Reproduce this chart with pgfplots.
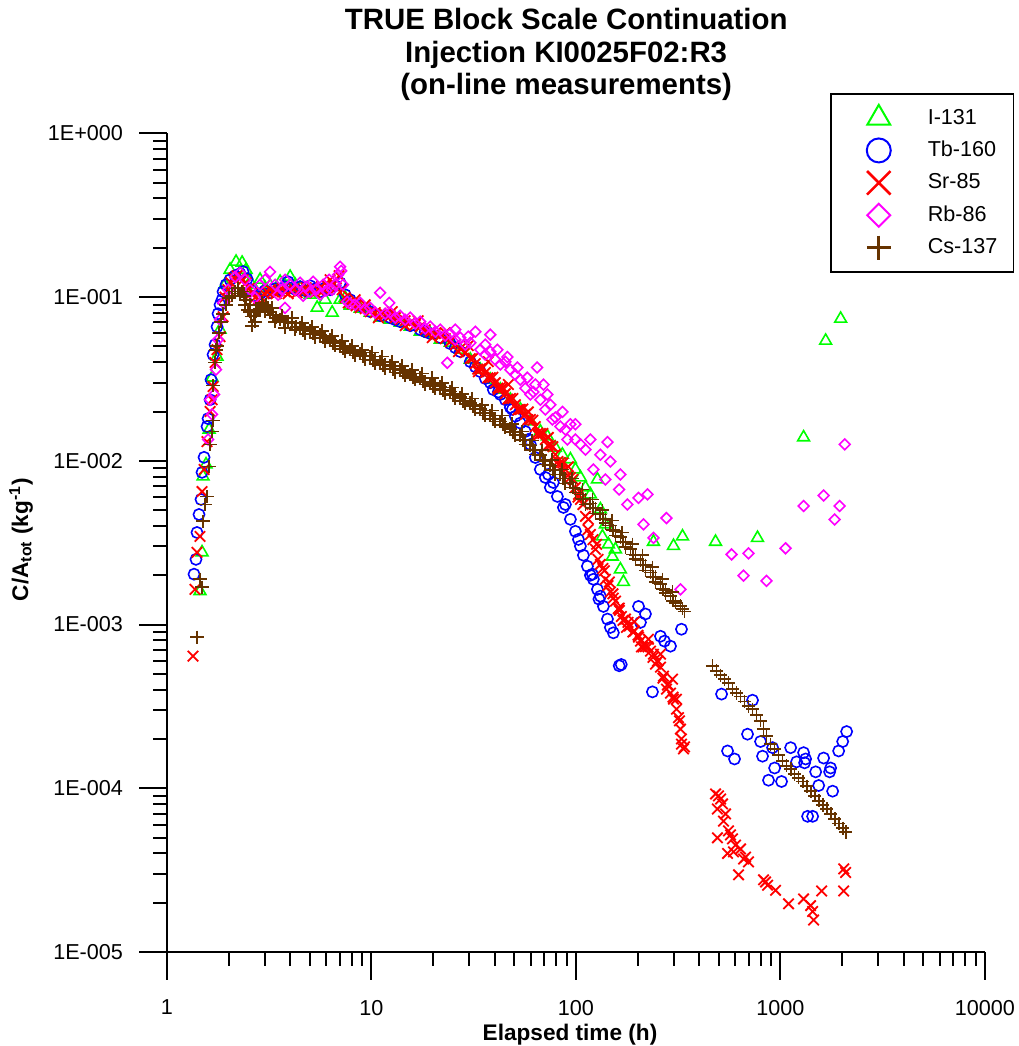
\documentclass[border=0pt]{standalone}
\usepackage{pgfplots}
\pgfplotsset{compat=1.18}
\usepackage{fontspec}
\setmainfont{Liberation Sans}
\definecolor{csbrown}{RGB}{102,51,0}
\definecolor{rbmag}{RGB}{255,0,255}
\definecolor{igreen}{RGB}{0,255,0}
\definecolor{tbblue}{RGB}{0,0,255}
\definecolor{srred}{RGB}{255,0,0}
\pgfplotsset{legmark/.style={only marks, legend image code/.code={\path[draw=none,fill=none] (-16pt,-8.1pt) rectangle (24.5pt,8.1pt); \draw[##1] plot coordinates {(0pt,0pt)};}}}
\begin{document}
\begin{tikzpicture}
\useasboundingbox (-83.5pt,-47pt) rectangle (426pt,476pt);
\begin{axis}[
 at={(0pt,0pt)}, anchor=south west,
 xmode=log, ymode=log,
 scale only axis, width=409pt, height=409.35pt,
 xmin=1, xmax=10000, ymin=1e-5, ymax=1,
 axis x line*=bottom, axis y line*=left,
 axis line style={line width=1.2pt, -},
 tick align=outside,
 major tick length=14pt, minor tick length=7pt,
 every tick/.style={black, line width=1pt},
 xtick={1,10,100,1000,10000}, xticklabels={1,10,100,1000,10000},
 minor xtick={2,3,4,5,6,7,8,9,20,30,40,50,60,70,80,90,200,300,400,500,600,700,800,900,2000,3000,4000,5000,6000,7000,8000,9000},
 ytick={1e-5,1e-4,1e-3,1e-2,1e-1,1},
 yticklabels={1E-005,1E-004,1E-003,1E-002,1E-001,1E+000},
 minor ytick={2e-5,3e-5,4e-5,5e-5,6e-5,7e-5,8e-5,9e-5,2e-4,3e-4,4e-4,5e-4,6e-4,7e-4,8e-4,9e-4,2e-3,3e-3,4e-3,5e-3,6e-3,7e-3,8e-3,9e-3,2e-2,3e-2,4e-2,5e-2,6e-2,7e-2,8e-2,9e-2,0.2,0.3,0.4,0.5,0.6,0.7,0.8,0.9},
 tick label style={font=\fontsize{10.8}{13}\selectfont},
 xticklabel style={yshift=-6.5pt},
 yticklabel style={xshift=-4.5pt},
 xlabel={Elapsed time (h)},
 ylabel={C/A\textsubscript{tot} (kg\textsuperscript{-1})},
 xlabel style={font=\bfseries\fontsize{11.3}{13}\selectfont, at={(axis description cs:0.4927,0)}, anchor=base, yshift=-44pt},
 ylabel style={font=\bfseries\fontsize{11.3}{13}\selectfont, at={(axis description cs:-0.1785,0.5037)}, anchor=center},
 title={TRUE Block Scale Continuation\\Injection KI0025F02:R3\\(on-line measurements)},
 title style={font=\bfseries\fontsize{14.7}{16.3}\selectfont, align=center, at={(axis description cs:0.488,1)}, anchor=south, inner sep=0pt, yshift=10pt},
 legend style={at={(axis description cs:0.8105,1.0492)}, anchor=north west, draw=black, line width=0.8pt, fill=white, inner xsep=8pt, inner ysep=4pt, row sep=0pt, nodes={inner sep=0pt, font=\fontsize{10.8}{13}\selectfont}},
 legend cell align=left,
]
\addlegendimage{legmark, mark=triangle, igreen, mark size=6.6pt, mark options={line width=1pt}}
\addlegendentry{I-131}
\addlegendimage{legmark, mark=o, tbblue, mark size=6pt, mark options={line width=1pt}}
\addlegendentry{Tb-160}
\addlegendimage{legmark, mark=x, srred, mark size=8.3pt, mark options={line width=1.3pt}}
\addlegendentry{Sr-85}
\addlegendimage{legmark, mark=square, rbmag, mark size=4.07pt, mark options={line width=1pt, rotate=45}}
\addlegendentry{Rb-86}
\addlegendimage{legmark, mark=+, csbrown, mark size=6pt, mark options={line width=1.3pt}}
\addlegendentry{Cs-137}

% I-131
\addplot[only marks, mark=triangle, mark size=3.4pt, igreen, mark options={line width=0.8pt}, forget plot] coordinates {
(1.450,1.60e-3)(1.484,2.76e-3)(1.501,8.02e-3)(1.552,9.50e-3)(1.606,1.55e-2)(1.661,3.22e-2)(1.757,4.32e-2)(1.817,6.32e-2)(1.922,0.1189)(2.034,0.1467)(2.176,0.1642)(2.330,0.162)(2.436,0.1467)(2.549,0.124)(2.696,0.1108)(2.852,0.1275)(3.017,0.1139)(3.192,0.1172)(3.377,0.1078)(3.573,0.124)(3.780,0.1108)(4.000,0.133)(4.232,0.1189)(4.477,0.1139)(4.737,0.1078)(5.012,0.1033)(5.423,0.086)(5.935,0.0963)(6.424,0.0803)(7.029,0.0963)(7.437,0.0990)(7.867,0.0885)(8.806,0.0849)(9.854,0.0803)(11.03,0.0748)(12.35,0.0727)(13.82,0.0697)(15.47,0.0659)(17.31,0.0614)(19.38,0.0598)(21.69,0.0549)(24.28,0.0526)(27.18,0.0477)(30.42,0.0415)(34.05,0.0360)(38.11,0.0313)(42.66,0.0272)(47.75,0.0236)(53.44,0.0206)(59.82,0.0174)(66.95,0.0151)(72.48,0.0141)(79.29,0.0120)(85.8,0.0109)(93.89,0.0102)(99.34,0.00885)(105.1,0.00791)(111.2,0.00687)(117.6,0.00623)(127.3,0.00769)(131.6,0.00505)(134.7,0.00345)(139.3,0.00409)(144.1,0.00309)(150.6,0.00260)(155.9,0.00288)(164.9,0.00217)(170.6,0.00182)(239.2,0.00320)(299.8,0.00302)(331.8,0.00345)(481.2,0.00320)(772.1,0.00338)(1297,0.0139)(1663,0.0541)(1969,0.0737)
};
% Tb-160
\addplot[only marks, mark=o, mark size=2.8pt, tbblue, mark options={line width=0.8pt}, forget plot] coordinates {
(1.356,2.03e-3)(1.386,2.50e-3)(1.402,3.65e-3)(1.434,4.70e-3)(1.467,5.81e-3)(1.484,8.5e-3)(1.518,1.05e-2)(1.570,1.62e-2)(1.588,1.81e-2)(1.624,2.36e-2)(1.642,3.13e-2)(1.680,4.45e-2)(1.718,5.12e-2)(1.757,6.59e-2)(1.777,7.91e-2)(1.817,8.97e-2)(1.858,9.63e-2)(1.880,0.1078)(1.944,0.1189)(2.034,0.1275)(2.152,0.135)(2.277,0.139)(2.355,0.143)(2.464,0.129)(2.578,0.1108)(2.696,0.1018)(2.852,0.1048)(3.017,0.1093)(3.192,0.1063)(3.377,0.1124)(3.573,0.1108)(3.780,0.1155)(3.910,0.1240)(4.090,0.1139)(4.279,0.1108)(4.477,0.1155)(4.737,0.1093)(5.012,0.1172)(5.303,0.1124)(5.610,0.1078)(5.935,0.1139)(6.280,0.1108)(6.644,0.1172)(7.029,0.122)(7.437,0.1033)(7.867,0.0963)(8.806,0.0885)(9.854,0.0814)(11.03,0.0769)(12.35,0.0748)(13.82,0.0707)(15.47,0.0668)(17.31,0.0632)(19.38,0.0598)(21.69,0.0565)(24.28,0.0519)(27.18,0.0464)(30.42,0.0403)(34.05,0.0350)(38.11,0.0300)(39.43,0.0272)(42.66,0.0254)(45.13,0.0236)(47.75,0.0212)(50.52,0.0187)(53.44,0.0170)(56.54,0.0151)(59.82,0.01258)(63.29,0.01047)(66.95,0.00885)(70.84,0.00791)(74.94,0.00687)(81.1,0.00606)(86.8,0.00519)(93.89,0.00439)(99.34,0.00371)(105.1,0.00301)(108.7,0.00265)(113.7,0.00227)(117.6,0.00200)(121.6,0.00189)(127.3,0.00164)(131.6,0.00149)(136.2,0.00129)(142.5,0.00108)(147.3,0.00096)(152.3,0.00089)(162.7,0.00056)(166.5,0.00057)(202.2,0.00129)(206.6,0.00103)(218.6,0.00116)(258.9,0.000848)(270.8,0.000792)(289.8,0.000738)(328.0,0.000936)(236.5,0.000388)
(13.07,0.0727)(18.32,0.0614)(25.69,0.0491)(32.19,0.0375)(36.03,0.0318)(41.7,0.0263)(48.83,0.0206)(58.5,0.0135)(73.3,0.00825)(77.5,0.00737)(88.75,0.00541)(102.8,0.00331)(120.3,0.00203)(129.5,0.00143)
(515.0,3.76e-4)(730.0,3.45e-4)(690,2.14e-4)(551,1.69e-4)(596,1.51e-4)(799.1,1.93e-4)(817,1.57e-4)(915,1.77e-4)(1121,1.77e-4)(936,1.33e-4)(874,1.12e-4)(1012,1.10e-4)(1297,1.65e-4)(1327,1.51e-4)(1312,1.43e-4)(1199,1.45e-4)(1486,1.26e-4)(1537,1.04e-4)(1625,1.53e-4)(1759,1.33e-4)(1739,1.26e-4)(1799,9.6e-5)(1925,1.69e-4)(2014,1.93e-4)(2106,2.22e-4)(1357,6.74e-5)(1436,6.74e-5)
};
% Sr-85
\addplot[only marks, mark=x, mark size=3.7pt, srred, mark options={line width=0.9pt}, forget plot] coordinates {
(1.341,6.41e-4)(1.371,1.64e-3)(1.402,2.76e-3)(1.450,3.45e-3)(1.484,6.49e-3)(1.518,8.85e-3)(1.570,1.31e-2)(1.624,2.00e-2)(1.661,2.36e-2)(1.680,2.84e-2)(1.718,3.98e-2)(1.757,4.77e-2)(1.817,5.73e-2)(1.880,7.58e-2)(1.922,0.100)(1.989,0.111)(2.057,0.122)(2.128,0.131)(2.201,0.135)(2.277,0.131)(2.355,0.1275)(2.436,0.122)(2.520,0.113)(2.607,0.1063)(2.696,0.0990)(2.789,0.0963)(2.884,0.100)(2.984,0.1048)(3.087,0.1078)(3.192,0.1108)(3.302,0.1078)(3.416,0.1048)(3.533,0.1093)(3.655,0.1124)(3.780,0.1078)(3.910,0.1048)(4.045,0.1093)(4.185,0.1124)(4.329,0.1063)(4.477,0.1108)(4.632,0.1078)(4.791,0.1139)(4.956,0.1093)(5.127,0.1124)(5.303,0.1063)(5.486,0.1108)(5.675,0.1155)(5.871,0.1108)(6.073,0.1172)(6.280,0.1275)(6.496,0.1189)(6.720,0.1139)(6.952,0.135)(7.191,0.1108)(7.437,0.0990)(7.694,0.0922)(8.047,0.0910)(8.417,0.0885)(8.806,0.0860)(9.318,0.0849)(9.854,0.0814)(10.43,0.0803)(11.03,0.0792)(11.67,0.0780)(12.35,0.0769)(13.07,0.0748)(13.82,0.0727)(14.62,0.0717)(15.47,0.0697)(16.37,0.0678)(17.31,0.0659)(18.32,0.0632)(19.38,0.0614)(20.51,0.0598)(21.69,0.0581)(22.95,0.0557)(24.28,0.0534)(25.69,0.0512)(27.18,0.0484)(28.76,0.0458)(30.42,0.0421)(32.19,0.0392)(34.05,0.0365)(36.03,0.0346)(38.11,0.0322)(40.32,0.0300)(42.66,0.0280)(45.13,0.0257)(47.75,0.0240)(50.52,0.0220)(53.44,0.0206)(56.54,0.0192)(59.82,0.01786)(63.29,0.01618)(66.95,0.01467)(70.84,0.01349)(74.94,0.01241)(79.29,0.01093)(83.88,0.00977)(88.75,0.00885)(93.89,0.00791)(99.34,0.00687)(105.1,0.00581)(111.2,0.00458)(117.6,0.00355)(124.5,0.00288)(131.6,0.00233)(139.3,0.00189)(147.3,0.00158)(152.3,0.00145)(162.7,0.00126)(166.8,0.00112)(174.5,0.00108)(182.5,0.00098)(193.1,0.00091)(202.2,0.000838)(206.6,0.000792)(218.6,0.000733)(231.3,0.000688)(239.2,0.000659)(250.0,0.000596)(258.9,0.000549)(267.8,0.000484)(280.0,0.000427)(289.8,0.000381)(299.8,0.000350)(310.1,0.000304)(317.3,0.000270)(324.3,0.000230)(328.0,0.000200)(335.5,0.000174)(328.0,0.000186)(339.3,0.000179)
(8.325,0.0963)(9.318,0.0897)(10.8,0.0748)(12.63,0.0814)(14.62,0.0668)(16.9,0.0717)(19.82,0.0565)(22.95,0.0606)(26.6,0.0464)(29.74,0.0505)(33.3,0.0350)(37.26,0.0403)(41.7,0.0272)(46.7,0.0292)(52.3,0.0206)(58.5,0.0199)(65.46,0.0143)(73.3,0.0139)(82.0,0.0095)(91.8,0.0092)(102.8,0.00623)(115.0,0.00439)(126.1,0.00309)(137.7,0.00213)(145.6,0.00182)(155.9,0.00139)(163,0.00122)(176.5,0.00096)(193.1,0.00104)(209,0.00073)(226,0.000814)(244.7,0.000573)(258.9,0.000659)(277,0.000403)(296.4,0.000464)(310,0.00035)(320.6,0.000258)
(31.30,0.0423)(35.03,0.0370)(39.21,0.0324)(43.88,0.0279)(49.12,0.0240)(54.98,0.0207)(61.54,0.0177)(68.87,0.0147)(77.09,0.0122)(86.28,0.0097)(96.58,0.0077)(108.1,0.0054)(121.0,0.0033)(135.4,0.0022)(143.3,0.00173)(151.6,0.00154)(161.1,0.00125)(179.6,0.00103)(201.0,0.00086)(225.0,0.00073)(251.9,0.00060)(281.8,0.00043)
(33.11,0.0363)(37.06,0.0321)(41.48,0.0278)(46.43,0.0238)(51.96,0.0204)(58.16,0.0178)(65.11,0.0148)(72.87,0.0124)(81.57,0.0099)(91.32,0.0081)(102.2,0.0060)(114.4,0.0038)(128.0,0.0025)(169.7,0.00106)(189.9,0.00090)(212.5,0.00073)(237.9,0.00063)(266.3,0.00047)(298.1,0.00036)
(481.2,9.23e-5)(497.6,8.98e-5)(509.2,8.60e-5)(491.4,7.48e-5)(520.8,8.02e-5)(526.7,6.3e-5)(538.7,6.97e-5)(557.2,5.49e-5)(570.0,5.19e-5)(582.5,4.91e-5)(491.4,4.98e-5)(551.0,4.0e-5)(589.2,4.09e-5)(603.0,4.5e-5)(637.9,4.26e-5)(660,3.70e-5)(675,3.8e-5)(697.8,3.55e-5)(624,2.96e-5)(826.6,2.76e-5)(845.6,2.68e-5)(865.0,2.56e-5)(946.5,2.38e-5)(1095,1.97e-5)(1297,2.11e-5)(1404,1.92e-5)(1436,1.77e-5)(1452,1.57e-5)(1590,2.36e-5)(2037,2.36e-5)(2083,3.06e-5)(2037,3.22e-5)
};
% Rb-86
\addplot[only marks, mark=square, mark size=1.9pt, rbmag, mark options={line width=0.8pt, rotate=45}, forget plot] coordinates {
(1.588,1.349e-2)(1.624,2.36e-2)(1.661,1.92e-2)(1.699,2.54e-2)(1.737,3.60e-2)(1.777,5.49e-2)(1.817,7.27e-2)(1.880,9.23e-2)(1.989,0.1108)(2.152,0.133)(2.277,0.1407)(2.409,0.1275)(2.549,0.1108)(2.696,0.0990)(2.852,0.1189)(3.017,0.1275)(3.192,0.1424)(3.377,0.1189)(3.493,0.1033)(3.655,0.1108)(3.780,0.1275)(4.000,0.1189)(4.232,0.1108)(4.477,0.1223)(4.632,0.1018)(4.791,0.1155)(5.012,0.1078)(5.186,0.1240)(5.364,0.1108)(5.610,0.1033)(5.803,0.1189)(6.004,0.1093)(6.209,0.1275)(6.424,0.1108)(6.644,0.1189)(6.873,0.1368)(7.029,0.1530)(7.110,0.1446)(7.273,0.1189)(7.609,0.0935)(7.867,0.0910)(8.325,0.0897)(8.806,0.0922)(9.318,0.0837)(9.854,0.0860)(10.43,0.0803)(11.03,0.1063)(12.21,0.0922)(11.67,0.0792)(12.35,0.0803)(13.07,0.0748)(13.82,0.0769)(14.62,0.0727)(15.47,0.0748)(16.37,0.0688)(17.31,0.0707)(18.32,0.0641)(19.38,0.0659)(20.51,0.0614)(21.69,0.0632)(22.95,0.0581)(24.28,0.0598)(25.69,0.0549)(27.18,0.0565)(28.76,0.0512)(30.42,0.0526)(32.19,0.0614)(38.11,0.0589)(23.47,0.0397)(34.05,0.0477)(36.03,0.0445)(38.11,0.0464)(40.32,0.0415)(42.66,0.0387)(45.13,0.0403)(47.75,0.0360)(50.52,0.0336)(53.44,0.0313)(56.54,0.0277)(59.82,0.0254)(63.29,0.0292)(64.57,0.0371)(69.38,0.0292)(66.95,0.0236)(70.84,0.0206)(74.94,0.0220)(79.29,0.0184)(83.88,0.0162)(88.75,0.0155)(93.89,0.0167)(99.34,0.0135)(105.1,0.0126)(111.2,0.0117)(117.6,0.0135)(121.6,0.00885)(131.6,0.0109)(139.3,0.00769)(142.5,0.0130)(147.3,0.00989)(162.7,0.00668)(164.9,0.00825)(178.5,0.00541)(202.2,0.00593)(223.6,0.00623)(214.0,0.00409)(239.2,0.00338)(276.9,0.00447)(324.3,0.00164)(3.780,0.0859)
(25.69,0.0632)(29.74,0.0573)(36.03,0.0512)(41.24,0.0477)(46.17,0.0430)(51.67,0.0371)(57.84,0.0322)(61.89,0.0263)(72.48,0.0254)(76.7,0.01786)(85.8,0.0199)(90.8,0.0135)(99.34,0.0167)
(576.5,2.68e-3)(697.8,2.72e-3)(660,1.99e-3)(854.5,1.85e-3)(1059,2.92e-3)(1297,5.30e-3)(1625,6.13e-3)(1947,5.30e-3)(1840,4.38e-3)(2060,1.26e-2)
};
% Cs-137
\addplot[only marks, mark=+, mark size=3.3pt, csbrown, mark options={line width=0.9pt}, forget plot] coordinates {
(1.402,8.37e-4)(1.450,1.89e-3)(1.484,1.69e-3)(1.501,4.27e-3)(1.535,5.41e-3)(1.570,6.06e-3)(1.606,9.24e-3)(1.624,1.258e-2)(1.661,1.51e-2)(1.680,1.76e-2)(1.680,2.88e-2)(1.718,3.98e-2)(1.737,4.77e-2)(1.757,5.05e-2)(1.797,6.06e-2)(1.838,7.07e-2)(1.880,7.91e-2)(1.944,8.97e-2)(2.011,9.83e-2)(2.080,0.102)(2.152,0.108)(2.226,0.113)(2.277,0.105)(2.330,0.108)(2.382,0.102)(2.436,0.0963)(2.492,0.0837)(2.549,0.0814)(2.578,0.0760)(2.607,0.0668)(2.666,0.0770)(2.727,0.0814)(2.789,0.0837)(2.852,0.0849)(2.950,0.0872)(3.052,0.0897)(3.122,0.0860)(3.192,0.0814)(3.302,0.0780)(3.416,0.0748)(3.573,0.0727)(3.738,0.0707)(3.910,0.0707)(4.090,0.0697)(4.279,0.0659)(4.477,0.0650)(4.737,0.0641)(5.012,0.0623)(5.303,0.0606)(5.610,0.0589)(5.935,0.0573)(6.280,0.0549)(6.644,0.0526)(7.029,0.0505)(7.437,0.0491)(7.867,0.0477)(8.325,0.0464)(8.806,0.0451)(9.318,0.0439)(9.854,0.0433)(10.43,0.0415)(11.03,0.0403)(11.67,0.0387)(12.35,0.0381)(13.07,0.0365)(13.82,0.0360)(14.62,0.0350)(15.47,0.0336)(16.37,0.0327)(17.31,0.0322)(18.32,0.0304)(19.38,0.0296)(20.51,0.0292)(21.69,0.0284)(22.95,0.0272)(24.28,0.0265)(25.69,0.0254)(27.18,0.0244)(28.76,0.0233)(30.42,0.0226)(32.19,0.0217)(34.05,0.0206)(36.03,0.0197)(38.11,0.0189)(40.32,0.0181)(42.66,0.0174)(45.13,0.0169)(47.75,0.0157)(50.52,0.0151)(53.44,0.0143)(56.54,0.0133)(59.82,0.0124)(63.29,0.0116)(66.95,0.0108)(70.84,0.0100)(74.94,0.00937)(79.29,0.00873)(83.88,0.00825)(88.75,0.00780)(93.89,0.00737)(99.34,0.00677)(105.1,0.00623)(111.2,0.00581)(117.6,0.00549)(124.5,0.00512)(131.6,0.00470)(139.3,0.00439)(147.3,0.00403)(155.9,0.00371)(164.9,0.00341)(174.5,0.00318)(184.6,0.00288)(195.3,0.00265)(206.6,0.00246)(218.6,0.00230)(231.3,0.00208)(244.7,0.00195)(258.9,0.00176)(273.9,0.00162)(289.8,0.00149)(306.6,0.00139)(324.3,0.00130)(339.3,0.00120)
(2.409,0.0897)(2.696,0.0707)(3.017,0.0814)(3.377,0.0707)(3.780,0.0650)(4.232,0.0632)(4.737,0.0598)(5.303,0.0565)(5.935,0.0534)(6.644,0.0505)(7.437,0.0464)(8.325,0.0439)(9.318,0.0415)(10.43,0.0392)(11.67,0.0365)(13.07,0.0346)(14.62,0.0331)(16.37,0.0313)(18.32,0.0292)(20.51,0.0276)(22.95,0.0257)(25.69,0.0240)(28.76,0.0223)(32.19,0.0206)(36.03,0.0189)(40.32,0.0174)(45.13,0.0160)(50.52,0.0143)(56.54,0.01258)(63.29,0.01093)(70.84,0.00950)(79.29,0.00825)(88.75,0.00727)(99.34,0.00641)(111.2,0.00541)(124.5,0.00476)(139.3,0.00415)(155.9,0.00350)(174.5,0.00297)(195.3,0.00250)(218.6,0.00214)(244.7,0.00181)(273.9,0.00155)(306.6,0.00136)(331.8,0.00125)
(2.549,0.0897)(2.917,0.0922)(3.265,0.0860)(3.655,0.0769)(4.090,0.0748)(4.579,0.0697)(5.127,0.0659)(5.739,0.0623)(6.424,0.0581)(7.191,0.0541)(8.047,0.0505)(9.006,0.0477)(10.08,0.0458)(11.28,0.0433)(12.63,0.0403)(14.13,0.0381)(15.82,0.0360)(17.71,0.0341)(19.82,0.0322)(22.19,0.0300)(24.83,0.0280)(27.80,0.0257)(31.11,0.0240)(34.83,0.0220)(38.98,0.0203)(43.63,0.0189)(48.83,0.0168)(54.66,0.0151)(61.18,0.0133)(68.47,0.0116)(76.65,0.0101)(85.8,0.00885)(96.0,0.00780)(107.5,0.00668)(120.3,0.00581)(134.7,0.00498)(150.6,0.00432)(168.6,0.00365)(188.8,0.00309)(211.3,0.00265)(236.5,0.00224)(264.7,0.00189)(296.4,0.00158)
(4.606,0.0627)(5.156,0.0598)(5.771,0.0564)(6.461,0.0522)(7.231,0.0484)(8.094,0.0457)(9.059,0.0433)(10.14,0.0412)(11.35,0.0384)(12.70,0.0363)(14.22,0.0345)(15.91,0.0322)(17.81,0.0304)(19.94,0.0286)(22.32,0.0270)(24.98,0.0252)(27.96,0.0231)(31.30,0.0215)(35.03,0.0195)(39.21,0.0180)(43.88,0.0166)(49.12,0.0150)(54.98,0.0134)(61.54,0.0117)(68.87,0.0101)(77.09,0.0088)(86.28,0.0078)(96.58,0.00687)(108.1,0.00583)(121.0,0.00515)(135.4,0.00441)(151.6,0.00376)(169.7,0.00321)(189.9,0.00268)(212.5,0.00231)(237.9,0.00195)(266.3,0.00164)(298.1,0.00140)
(465.4,5.6e-4)(486.9,5.2e-4)(509.2,4.9e-4)(532.5,4.64e-4)(557.0,4.39e-4)(582.5,4.03e-4)(609.2,3.82e-4)(637.9,3.64e-4)(667.2,3.39e-4)(697.8,3.17e-4)(730.0,3.04e-4)(763.8,2.79e-4)(799.1,2.58e-4)(825.9,2.30e-4)(854.5,2.08e-4)(894.6,1.86e-4)(935.6,1.74e-4)(978.6,1.60e-4)(1024,1.47e-4)(1071,1.37e-4)(1121,1.31e-4)(1172,1.22e-4)(1226,1.16e-4)(1283,1.10e-4)(1342,1.03e-4)(1404,9.6e-5)(1469,9.0e-5)(1537,8.4e-5)(1608,7.9e-5)(1682,7.5e-5)(1759,7.0e-5)(1840,6.5e-5)(1925,6.1e-5)(2014,5.7e-5)(2083,5.4e-5)
};
\end{axis}
\end{tikzpicture}
\end{document}
